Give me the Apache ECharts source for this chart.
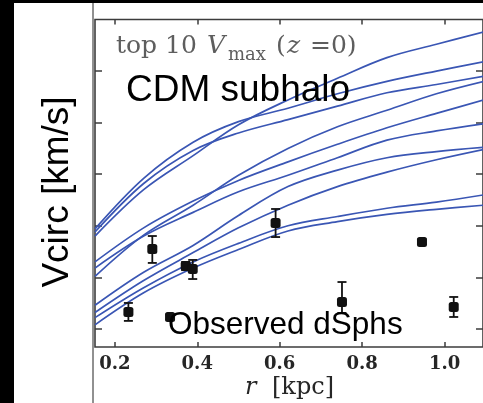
<!DOCTYPE html>
<html>
<head>
<meta charset="utf-8">
<script src="https://cdn.jsdelivr.net/npm/echarts@6.0.0/dist/echarts.min.js"></script>
<style>
  html, body { margin: 0; padding: 0; background: #fff; }
  #chart { width: 483px; height: 403px; }
</style>
</head>
<body>
<div id="chart"></div>
<script>
// Radii (kpc) at which the subhalo rotation curves are sampled
const radiusSamples = [0.152, 0.27, 0.39, 0.5, 0.62, 0.74, 0.86, 0.98, 1.095];

// Circular velocity (km/s) of the ten most massive CDM subhaloes
const halo1  = [19.0, 23.5, 26.8, 29.8, 32.2, 34.3, 36.3, 37.6, 38.8];
const halo2  = [19.7, 24.6, 28.1, 30.1, 31.4, 32.8, 34.0, 35.0, 35.9];
const halo3  = [19.4, 24.1, 27.3, 29.0, 30.3, 31.6, 32.9, 33.7, 34.5];
const halo4  = [15.1, 19.1, 22.0, 24.9, 27.5, 29.6, 31.2, 32.8, 34.0];
const halo5  = [16.5, 19.8, 22.4, 24.4, 26.2, 27.9, 29.5, 30.9, 32.2];
const halo6  = [15.9, 19.0, 21.3, 23.3, 24.9, 26.6, 28.3, 29.2, 29.9];
const halo7  = [12.3, 15.5, 18.1, 21.0, 23.8, 25.4, 26.6, 27.2, 27.6];
const halo8  = [11.6, 14.7, 17.4, 19.8, 22.0, 23.8, 25.2, 26.4, 27.4];
const halo9  = [11.1, 14.0, 16.5, 18.3, 20.0, 20.9, 21.7, 22.3, 23.0];
const halo10 = [10.4, 13.5, 15.9, 17.7, 19.5, 20.4, 21.1, 21.6, 22.0];
const haloCurves = [halo1, halo2, halo3, halo4, halo5, halo6, halo7, halo8, halo9, halo10];

// Observed dwarf spheroidals: half-light radius, Vcirc and its error range
const dsphRadius  = [0.233, 0.291, 0.334, 0.372, 0.389, 0.590, 0.751, 0.945, 1.022];
const dsphVcirc   = [11.65, 17.75, 11.16, 16.10, 15.81, 20.27, 12.62, 18.43, 12.13];
const dsphErrLow  = [10.78, 16.40, 10.90, 15.70, 14.84, 18.91, 11.55, 18.20, 11.16];
const dsphErrHigh = [12.52, 19.01, 11.40, 16.50, 16.69, 21.63, 14.55, 18.70, 13.10];

// Axis ticks
const xTicks = [0.2, 0.4, 0.6, 0.8, 1.0];
const yTicks = [10, 15, 20, 25, 30, 35];
const xRange = [0.152, 1.093];
const yRange = [8.25, 40];

const chart = echarts.init(document.getElementById('chart'), null, { renderer: 'canvas' });

const curveColor = '#3a56b4';
const frameColor = '#3c3c3c';

const curveSeries = haloCurves.map((vals, i) => ({
  name: 'halo' + (i + 1),
  type: 'line',
  data: radiusSamples.map((r, j) => [r, vals[j]]),
  showSymbol: false,
  smooth: 0.35,
  lineStyle: { color: curveColor, width: 1.7 },
  silent: true,
  z: 2
}));

const errorBarSeries = {
  type: 'custom',
  data: dsphRadius.map((r, i) => [r, dsphErrLow[i], dsphErrHigh[i]]),
  renderItem: function (params, api) {
    const lo = api.coord([api.value(0), api.value(1)]);
    const hi = api.coord([api.value(0), api.value(2)]);
    const cap = 4.5;
    const st = { stroke: '#111', lineWidth: 1.8 };
    return {
      type: 'group',
      children: [
        { type: 'line', shape: { x1: lo[0], y1: lo[1], x2: hi[0], y2: hi[1] }, style: st },
        { type: 'line', shape: { x1: lo[0] - cap, y1: lo[1], x2: lo[0] + cap, y2: lo[1] }, style: st },
        { type: 'line', shape: { x1: hi[0] - cap, y1: hi[1], x2: hi[0] + cap, y2: hi[1] }, style: st }
      ]
    };
  },
  z: 3
};

const pointSeries = {
  type: 'scatter',
  data: dsphRadius.map((r, i) => [r, dsphVcirc[i]]),
  symbol: 'roundRect',
  symbolSize: 10,
  itemStyle: { color: '#111', opacity: 1 },
  z: 4
};

const tickStyle = { color: frameColor, width: 1.5 };

chart.setOption({
  animation: false,
  backgroundColor: '#fff',
  grid: {
    left: 95, top: 19.5, right: -5, bottom: 56,
    show: true, borderColor: frameColor, borderWidth: 1.6, backgroundColor: '#fff'
  },
  xAxis: [
    {
      type: 'value', position: 'bottom', min: xRange[0], max: xRange[1],
      axisLine: { show: false },
      axisTick: { inside: true, length: 5, customValues: xTicks, lineStyle: tickStyle },
      axisLabel: {
        customValues: xTicks,
        formatter: v => v.toFixed(1),
        fontFamily: 'DejaVu Serif', fontWeight: 'bold', fontSize: 18, color: '#262626', margin: 8
      },
      splitLine: { show: false }
    },
    {
      type: 'value', position: 'top', min: xRange[0], max: xRange[1],
      axisLine: { show: false },
      axisTick: { inside: true, length: 5, customValues: xTicks, lineStyle: tickStyle },
      axisLabel: { show: false },
      splitLine: { show: false }
    }
  ],
  yAxis: [
    {
      type: 'value', position: 'left', min: yRange[0], max: yRange[1],
      axisLine: { show: false },
      axisTick: { inside: true, length: 7, customValues: yTicks, lineStyle: tickStyle },
      axisLabel: { show: false },
      splitLine: { show: false }
    },
    {
      type: 'value', position: 'right', min: yRange[0], max: yRange[1],
      axisLine: { show: false },
      axisTick: { inside: true, length: 7, customValues: yTicks, lineStyle: tickStyle },
      axisLabel: { show: false },
      splitLine: { show: false }
    }
  ],
  series: curveSeries.concat([errorBarSeries, pointSeries]),
  graphic: [
    { type: 'rect', shape: { x: 0, y: 0, width: 14, height: 403 }, style: { fill: '#000' }, z: 100 },
    { type: 'rect', shape: { x: 0, y: 0, width: 483, height: 3 }, style: { fill: '#000' }, z: 100 },
    { type: 'line', shape: { x1: 93, y1: 3, x2: 93, y2: 403 }, style: { stroke: '#222', lineWidth: 1 }, z: 100 },
    {
      type: 'text', x: 58, y: 192, rotation: Math.PI / 2, z: 100,
      style: { text: 'Vcirc [km/s]', font: '37px "Liberation Sans", Arial, sans-serif', fill: '#000', align: 'center', verticalAlign: 'middle' }
    },
    {
      type: 'text', x: 126, y: 91, z: 100,
      style: { text: 'CDM subhalo', font: '37px "Liberation Sans", Arial, sans-serif', fill: '#000', align: 'left', verticalAlign: 'middle' }
    },
    {
      type: 'text', x: 168, y: 325, z: 100,
      style: { text: 'Observed dSphs', font: '31.5px "Liberation Sans", Arial, sans-serif', fill: '#000', align: 'left', verticalAlign: 'middle' }
    },
    // top 10 V_max(z = 0)
    { type: 'text', x: 116, y: 46, z: 100, style: { text: 'top 10', font: '25px "DejaVu Serif", serif', fill: '#5e5e5e', verticalAlign: 'middle' } },
    { type: 'text', x: 207, y: 46, z: 100, style: { text: 'V', font: 'italic 25px "DejaVu Serif", serif', fill: '#5e5e5e', verticalAlign: 'middle' } },
    { type: 'text', x: 228, y: 55, z: 100, style: { text: 'max', font: '18px "DejaVu Serif", serif', fill: '#5e5e5e', verticalAlign: 'middle' } },
    { type: 'text', x: 276, y: 46, z: 100, style: { text: '(', font: '25px "DejaVu Serif", serif', fill: '#5e5e5e', verticalAlign: 'middle' } },
    { type: 'text', x: 287, y: 46, z: 100, style: { text: 'z', font: 'italic 25px "DejaVu Serif", serif', fill: '#5e5e5e', verticalAlign: 'middle' } },
    { type: 'text', x: 310, y: 46, z: 100, style: { text: '=0)', font: '25px "DejaVu Serif", serif', fill: '#5e5e5e', verticalAlign: 'middle' } },
    // r [kpc]
    { type: 'text', x: 245, y: 388, z: 100, style: { text: 'r', font: 'italic 24px "DejaVu Serif", serif', fill: '#262626', verticalAlign: 'middle' } },
    { type: 'text', x: 272, y: 388, z: 100, style: { text: '[kpc]', font: '24px "DejaVu Serif", serif', fill: '#262626', verticalAlign: 'middle' } }
  ]
});
</script>
</body>
</html>
